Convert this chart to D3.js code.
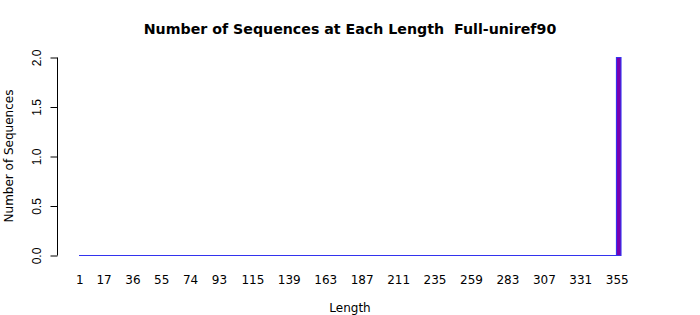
<!DOCTYPE html>
<html><head><meta charset="utf-8">
<script src="https://cdn.jsdelivr.net/npm/d3@7"></script>
<style>body{margin:0;background:#fff}svg{display:block;font-family:"DejaVu Sans",sans-serif}</style>
</head><body><svg id="c" width="700" height="315"></svg>
<script>
// Data
const lengthMin = 1, lengthMax = 357;
const nonzeroLengths = [355, 356, 357];
const nonzeroCounts = [2, 2, 2];
const tickLabels = [1, 17, 36, 55, 74, 93, 115, 139, 163, 187, 211, 235, 259, 283, 307, 331, 355];
const yTicks = [0, 0.5, 1.0, 1.5, 2.0];
const title = "Number of Sequences at Each Length  Full-uniref90";

const lengths = d3.range(lengthMin, lengthMax + 1);
const countMap = new Map(nonzeroLengths.map((l, i) => [l, nonzeroCounts[i]]));
const series = lengths.map(l => ({len: l, count: countMap.get(l) || 0}));

// merge adjacent bars of equal count into runs (avoids overdrawn borders)
const runs = [];
series.forEach(d => {
  const last = runs[runs.length - 1];
  if (last && last.count === d.count) last.end = d.len;
  else runs.push({start: d.len, end: d.len, count: d.count});
});

const svg = d3.select("#c");
const x = d3.scaleBand().domain(lengths).range([79, 621]).padding(0);
const y = d3.scaleLinear().domain([0, 2]).range([255.5, 57.5]);

svg.append("g").selectAll("path").data(runs).join("path")
  .attr("d", r => {
    const p = d3.path();
    const x0 = x(r.start), x1 = x(r.end) + x.bandwidth();
    if (r.count === 0) { p.moveTo(x0, y(0)); p.lineTo(x1, y(0)); return p.toString(); }
    p.moveTo(x0, y(0)); p.lineTo(x0, y(r.count)); p.lineTo(x1, y(r.count)); p.lineTo(x1, y(0)); p.closePath();
    return p.toString();
  })
  .attr("fill", "#7800b0").attr("stroke", "#3333ee").attr("stroke-width", 1.1);

// y axis (R style)
const yAxis = d3.axisLeft(y).tickValues(yTicks).tickFormat(d3.format(".1f")).tickSize(7).tickPadding(6);
const gy = svg.append("g").attr("transform", "translate(57.5,0)").call(yAxis);
gy.select(".domain").attr("d", `M0,${y(0)}V${y(2)}`).attr("stroke", "#000");
gy.selectAll(".tick line").attr("stroke", "#000");
gy.selectAll(".tick text").attr("font-size", 12).attr("fill", "#000")
  .attr("x", 0).attr("y", 0).attr("dy", "0.35em").attr("text-anchor", "middle")
  .attr("transform", "translate(-21,0) rotate(-90)");

// x labels
svg.append("g").selectAll("text").data(tickLabels).join("text")
  .attr("x", d => x(d) + x.bandwidth() / 2).attr("y", 284)
  .attr("text-anchor", "middle").attr("font-size", 12).text(d => d);

// titles
svg.append("text").attr("x", 350).attr("y", 34).attr("text-anchor", "middle")
  .attr("font-size", 14.2).attr("font-weight", "bold").style("white-space", "pre").text(title);
svg.append("text").attr("x", 350).attr("y", 312).attr("text-anchor", "middle")
  .attr("font-size", 12).text("Length");
svg.append("text").attr("transform", "translate(13,156) rotate(-90)")
  .attr("text-anchor", "middle").attr("font-size", 12).text("Number of Sequences");
</script></body></html>
